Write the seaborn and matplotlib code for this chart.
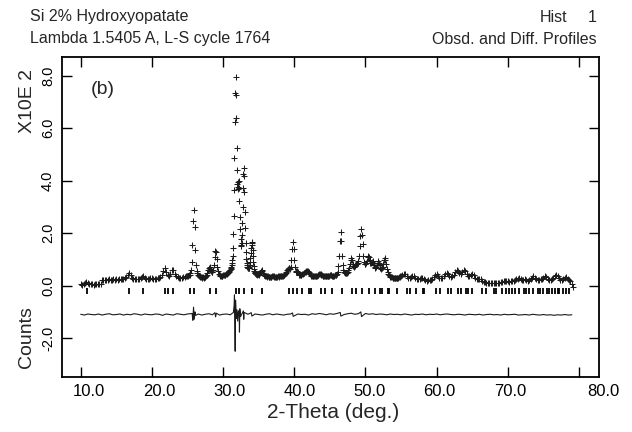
import numpy as np
import pandas as pd
import matplotlib
matplotlib.use("Agg")
import matplotlib.pyplot as plt
import matplotlib.transforms as mtransforms
import seaborn as sns

# ---------------- data (counts in units of 10^2) ----------------
# observed profile, stored as segments: start 2-theta, step, values
obs_seg1_start, obs_seg1_step = 10.0, 0.2
obs_seg1 = [0.05, 0.04, 0.06, 0.09, 0.13, 0.09, 0.06, 0.05, 0.06, 0.04,
            0.05, 0.06, 0.05, 0.06, 0.07, 0.22, 0.23, 0.21, 0.23, 0.22,
            0.24, 0.22, 0.23, 0.24, 0.22, 0.24, 0.23, 0.25, 0.24, 0.26,
            0.27, 0.29, 0.33, 0.42, 0.48, 0.40, 0.31, 0.27, 0.25, 0.24,
            0.25, 0.26, 0.28, 0.32, 0.36, 0.31, 0.27, 0.25, 0.26, 0.28,
            0.30, 0.27, 0.26, 0.27, 0.28, 0.30, 0.33, 0.40, 0.55, 0.66,
            0.52, 0.40, 0.38, 0.45, 0.58, 0.60, 0.46, 0.36, 0.32, 0.31,
            0.30, 0.31, 0.32, 0.34, 0.37]

obs_seg2_start, obs_seg2_step = 25.0, 0.1
obs_seg2 = [0.36, 0.37, 0.40, 0.42, 0.47, 0.60, 0.90, 1.55, 2.45, 2.87,
            2.25, 1.35, 0.80, 0.56, 0.47, 0.42, 0.38, 0.36, 0.34, 0.33,
            0.32, 0.31, 0.32, 0.31, 0.33, 0.34, 0.37, 0.42, 0.50, 0.60,
            0.68, 0.70, 0.64, 0.56, 0.52, 0.52, 0.60, 0.80, 1.10, 1.33,
            1.30, 1.02, 0.72, 0.55, 0.45, 0.40, 0.38, 0.36, 0.37, 0.38,
            0.39, 0.40, 0.41, 0.42, 0.43, 0.45, 0.47, 0.50, 0.53, 0.57]

obs_seg3_start, obs_seg3_step = 31.0, 0.05
obs_seg3 = [0.61, 0.64, 0.67, 0.71, 0.78, 0.86, 0.99, 1.15, 1.44, 1.97,
            2.65, 3.66, 4.86, 6.25, 7.35, 7.94, 7.28, 6.38, 5.26, 4.42,
            3.86, 3.70, 3.78, 3.95, 4.00, 3.72, 3.22, 2.62, 2.15, 1.77,
            1.56, 1.50, 1.63, 1.92, 2.40, 3.00, 3.72, 4.26, 4.48, 4.20,
            3.58, 2.82, 2.18, 1.63, 1.27, 1.00, 0.86, 0.79, 0.72, 0.70,
            0.67, 0.66, 0.66, 0.68, 0.72, 0.79, 0.89, 1.04, 1.23, 1.45,
            1.62, 1.68, 1.56, 1.36, 1.12, 0.90, 0.74, 0.63, 0.56, 0.52,
            0.49, 0.47, 0.45, 0.44, 0.43, 0.43, 0.42, 0.43, 0.44, 0.45]

obs_seg4_start, obs_seg4_step = 35.0, 0.1
obs_seg4 = [0.42, 0.45, 0.50, 0.56, 0.60, 0.56, 0.48, 0.42, 0.39, 0.37,
            0.36, 0.35, 0.34, 0.35, 0.34, 0.33, 0.34, 0.33, 0.34, 0.35,
            0.36, 0.35, 0.34, 0.33, 0.34, 0.33, 0.34, 0.35, 0.34, 0.35,
            0.36, 0.35, 0.36, 0.37, 0.38, 0.39, 0.41, 0.44, 0.48, 0.53,
            0.59, 0.64, 0.68, 0.67, 0.64, 0.72, 0.99, 1.41, 1.66, 1.40,
            0.97, 0.70, 0.57, 0.54, 0.56, 0.52, 0.46, 0.42, 0.40, 0.41,
            0.42, 0.44, 0.46, 0.48, 0.50, 0.52, 0.54, 0.56, 0.56, 0.55,
            0.52, 0.47, 0.43, 0.40, 0.38, 0.37, 0.36, 0.35, 0.36, 0.35,
            0.36, 0.37, 0.38, 0.40, 0.42, 0.44, 0.45, 0.44, 0.41, 0.39,
            0.37, 0.36, 0.37, 0.38, 0.37, 0.36, 0.37, 0.38, 0.37, 0.38,
            0.40, 0.40, 0.39, 0.37, 0.36, 0.37, 0.38, 0.39, 0.40, 0.42,
            0.45, 0.54, 0.75, 1.14, 1.72, 2.06, 1.72, 1.14, 0.78, 0.60,
            0.52, 0.48, 0.47, 0.48, 0.50, 0.53, 0.58, 0.68, 0.84, 0.98,
            1.05, 0.98, 0.84, 0.74, 0.72, 0.74, 0.80, 0.82, 0.84, 0.88,
            0.94, 1.15, 1.52, 1.90, 2.16, 1.92, 1.58, 1.12, 0.90, 0.82,
            0.82, 0.86, 0.95, 1.08, 1.15, 1.08, 0.96, 0.86, 0.86, 0.90,
            0.93, 0.88, 0.78, 0.70, 0.68, 0.72, 0.80, 0.88, 0.93, 0.88,
            0.78, 0.68, 0.64, 0.66, 0.72, 0.82, 0.96, 1.05, 0.98, 0.82,
            0.64, 0.52, 0.44, 0.39, 0.36, 0.34, 0.33, 0.32, 0.31, 0.31,
            0.30, 0.30, 0.29, 0.30, 0.29, 0.30, 0.31, 0.32, 0.34, 0.37]

obs_seg5_start, obs_seg5_step = 55.0, 0.2
obs_seg5 = [0.38, 0.42, 0.44, 0.43, 0.36, 0.30, 0.28, 0.32, 0.38, 0.37,
            0.30, 0.26, 0.25, 0.27, 0.30, 0.28, 0.24, 0.20, 0.19, 0.20,
            0.21, 0.23, 0.26, 0.33, 0.41, 0.43, 0.36, 0.30, 0.28, 0.30,
            0.35, 0.43, 0.50, 0.46, 0.38, 0.34, 0.36, 0.42, 0.52, 0.59,
            0.57, 0.48, 0.46, 0.52, 0.58, 0.55, 0.46, 0.38, 0.36, 0.41,
            0.46, 0.40, 0.31, 0.26, 0.25, 0.27, 0.24, 0.19, 0.15, 0.13,
            0.11, 0.10, 0.09, 0.10, 0.09, 0.10, 0.10, 0.11, 0.10, 0.11,
            0.13, 0.15, 0.17, 0.19, 0.18, 0.16, 0.15, 0.16, 0.17, 0.19,
            0.21, 0.24, 0.27, 0.28, 0.25, 0.22, 0.22, 0.24, 0.21, 0.19,
            0.20, 0.24, 0.31, 0.35, 0.30, 0.24, 0.21, 0.22, 0.24, 0.27,
            0.31, 0.35, 0.33, 0.27, 0.23, 0.22, 0.24, 0.29, 0.36, 0.40,
            0.36, 0.28, 0.23, 0.22, 0.26, 0.31, 0.32, 0.26, 0.20, 0.16,
            0.08, -0.04]

# difference curve (obs - calc): smooth part every 0.5 deg from 10.0
diff_base_start, diff_base_step = 10.0, 0.5
diff_base = [0.01, -0.02, 0.02, 0.00, -0.01, 0.02, -0.02, 0.01, 0.03, -0.01,
             0.00, 0.02, -0.02, 0.01, -0.01, 0.03, 0.01, -0.02, 0.02, 0.00,
             -0.01, 0.02, 0.01, -0.03, 0.02, 0.00, -0.02, 0.03, 0.01, -0.01,
             0.02, -0.01, 0.00, 0.02, -0.02, 0.01, 0.03, -0.01, 0.02, -0.02,
             0.01, 0.02, -0.01, 0.03, 0.00, -0.02, 0.02, 0.01, -0.01, 0.02,
             0.00, -0.02, 0.01, 0.03, -0.01, 0.02, 0.00, -0.02, 0.01, 0.02,
             -0.01, 0.02, 0.00, 0.01, -0.02, 0.03, 0.01, 0.04, 0.02, -0.01,
             0.03, 0.01, 0.04, 0.02, 0.00, 0.03, 0.05, 0.01, 0.03, 0.02,
             0.04, 0.01, 0.03, 0.00, 0.02, 0.01, -0.01, 0.02, 0.00, 0.01,
             -0.01, 0.02, 0.00, -0.02, 0.01, 0.00, 0.02, -0.01, 0.01, 0.00,
             0.02, -0.01, 0.01, 0.02, 0.00, -0.01, 0.01, 0.00, -0.02, 0.01,
             0.00, -0.01, 0.01, -0.02, 0.00, 0.01, -0.01, 0.00, -0.02, 0.01,
             -0.01, 0.00, 0.01, -0.02, -0.01, 0.00, -0.02, 0.01, -0.01, -0.02,
             0.00, -0.02, -0.01, -0.03, -0.01, -0.02, 0.00, -0.02, -0.01]
# difference near the strong reflections
diff_peak_tth = [25.65, 25.75, 25.85, 25.95, 26.05, 26.15,
                 28.85, 28.95, 29.05,
                 31.45, 31.55, 31.60, 31.65, 31.70, 31.75, 31.80, 31.85, 31.95,
                 32.05, 32.15, 32.25, 32.30, 32.35, 32.45, 32.85, 32.90, 32.95,
                 33.95, 34.05, 39.75, 39.85, 46.45, 46.55, 49.35, 49.45]
diff_peak_val = [0.04, -0.22, 0.28, -0.18, 0.10, -0.03,
                 0.07, -0.09, 0.05,
                 0.08, 0.35, 0.75, -0.50, -1.40, 0.55, 0.25, -0.15, 0.18,
                 -0.25, 0.12, 0.15, -0.67, 0.22, -0.08, 0.14, -0.18, 0.08,
                 0.07, -0.06, 0.06, -0.07, 0.08, -0.06, 0.10, -0.08]
diff_offset = -1.10

# reflection positions (2-theta, deg)
refl_pos = [10.82, 16.84, 18.78, 21.82, 22.20, 22.90, 25.40, 25.88, 28.13, 28.97,
            31.77, 32.20, 32.90, 34.05, 35.48, 39.20, 39.82, 40.45, 41.06, 42.03,
            42.32, 43.80, 44.37, 45.30, 46.71, 48.10, 48.62, 49.47, 50.49, 51.28,
            52.10, 52.30, 53.14, 53.24, 54.44, 55.88, 56.21, 57.13, 58.07, 58.28,
            59.96, 60.46, 61.66, 62.00, 63.01, 63.38, 64.08, 64.39, 65.03, 66.38,
            67.00, 68.07, 68.36, 69.12, 69.70, 70.22, 70.63, 71.04, 71.62, 72.29,
            72.62, 73.04, 73.60, 74.18, 74.55, 75.00, 75.55, 75.84, 76.21, 76.65,
            77.03, 77.25, 77.80, 78.21, 78.55]
refl_level = -0.22

x_ticks = [10.0, 20.0, 30.0, 40.0, 50.0, 60.0, 70.0, 80.0]
x_tick_labels = ["10.0", "20.0", "30.0", "40.0", "50.0", "60.0", "70.0", "80.0"]
y_ticks = [-2.0, 0.0, 2.0, 4.0, 6.0, 8.0]
y_tick_labels = ["-2.0", "0.0", "2.0", "4.0", "6.0", "8.0"]

# ---------------- assemble tables ----------------
segs = [(obs_seg1_start, obs_seg1_step, obs_seg1),
        (obs_seg2_start, obs_seg2_step, obs_seg2),
        (obs_seg3_start, obs_seg3_step, obs_seg3),
        (obs_seg4_start, obs_seg4_step, obs_seg4),
        (obs_seg5_start, obs_seg5_step, obs_seg5)]
obs_df = pd.concat([pd.DataFrame({"tth": s0 + st * np.arange(len(v)), "obs": v})
                    for s0, st, v in segs], ignore_index=True)

base_tth = diff_base_start + diff_base_step * np.arange(len(diff_base))
peak_tth = np.array(diff_peak_tth)
keep = np.array([np.min(np.abs(peak_tth - t)) > 0.2 for t in base_tth])
diff_df = pd.concat([pd.DataFrame({"tth": base_tth[keep], "d": np.array(diff_base)[keep]}),
                     pd.DataFrame({"tth": peak_tth, "d": diff_peak_val})],
                    ignore_index=True).sort_values("tth")
diff_df["y"] = diff_df["d"] + diff_offset

refl_df = pd.DataFrame({"tth": refl_pos, "y": [refl_level] * len(refl_pos)})

# ---------------- plot ----------------
sns.set_theme(style="ticks")
plt.rcParams["font.family"] = ["Liberation Sans", "DejaVu Sans"]

fig = plt.figure(figsize=(6.32, 4.32), dpi=100)
ax = fig.add_axes([0.0981, 0.1262, 0.8497, 0.7426])

sns.lineplot(data=diff_df, x="tth", y="y", ax=ax, color="#1a1a1a", lw=0.8,
             estimator=None, sort=False)
sns.scatterplot(data=refl_df, x="tth", y="y", ax=ax, marker="|", s=24,
                color="black", linewidth=1.3)
sns.scatterplot(data=obs_df, x="tth", y="obs", ax=ax, marker="+", s=18,
                color="#1c1c1c", linewidth=0.75)

ax.set_xlim(7.37, 82.81)
ax.set_ylim(-3.50, 8.73)
ax.set_xticks(x_ticks)
ax.set_xticklabels(x_tick_labels, fontsize=12)
ax.set_yticks(y_ticks)
ax.set_yticklabels(y_tick_labels, fontsize=10.5, rotation=90, va="center")
ax.tick_params(axis="both", direction="in", length=7, width=1.0, color="black",
               top=True, right=True, labelcolor="black")
ax.tick_params(axis="x", pad=5)
ax.tick_params(axis="y", pad=5)
for sp in ax.spines.values():
    sp.set_color("black")
    sp.set_linewidth(1.3)
ax.set_xlabel("")
ax.set_ylabel("")

# shift x tick labels the way the original plotter placed them
label_shift_px = [8, 7, 6, 5, 4, 3, 2, 24]
for lab, dx in zip(ax.get_xticklabels(), label_shift_px):
    lab.set_transform(lab.get_transform() +
                      mtransforms.ScaledTranslation(dx / 100.0, 0, fig.dpi_scale_trans))

W, H = 632.0, 432.0
hdr = dict(family=["Liberation Sans", "DejaVu Sans"], fontsize=11.5, va="center")
fig.text(30 / W, 1 - 17 / H, "Si 2% Hydroxyopatate", ha="left", **hdr)
fig.text(30 / W, 1 - 39 / H, "Lambda 1.5405 A, L-S cycle 1764", ha="left", **hdr)
fig.text(540 / W, 1 - 17 / H, "Hist", ha="left", **hdr)
fig.text(597 / W, 1 - 17 / H, "1", ha="right", **hdr)
fig.text(597 / W, 1 - 39 / H, "Obsd. and Diff. Profiles", ha="right", **hdr)

fig.text(27 / W, 1 - 101 / H, "X10E 2", rotation=90, fontsize=14, ha="center", va="center")
fig.text(26 / W, 1 - 337 / H, "Counts", rotation=90, fontsize=14, ha="center", va="center")
fig.text(103 / W, 1 - 90 / H, "(b)", fontsize=14, ha="center", va="center")
fig.text(333 / W, 1 - 413 / H, "2-Theta (deg.)", fontsize=15, ha="center", va="center")

fig.savefig("out.png", dpi=100, facecolor="white")
